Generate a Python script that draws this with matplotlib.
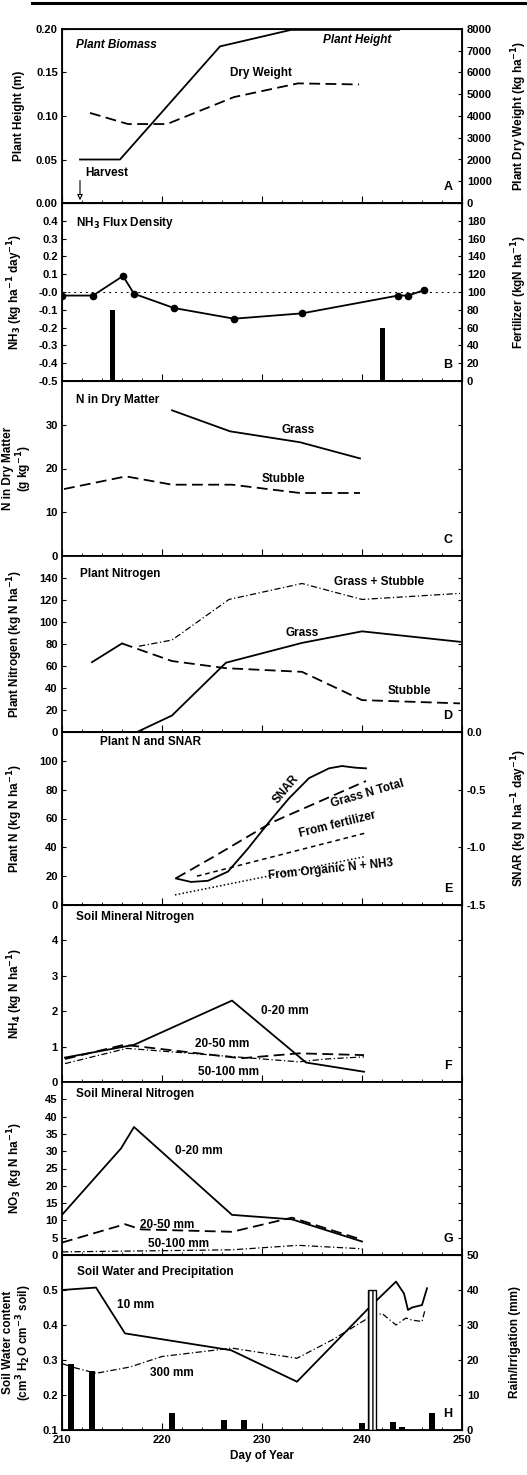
import numpy as np
import matplotlib
matplotlib.use("Agg")
import matplotlib.pyplot as plt
from matplotlib.lines import Line2D

plt.rcParams['font.family'] = ['Liberation Sans', 'DejaVu Sans']
plt.rcParams['font.weight'] = 'bold'
plt.rcParams['axes.labelweight'] = 'bold'
plt.rcParams['axes.unicode_minus'] = False
plt.rcParams['font.size'] = 8

# ---- data ----
# A: plant biomass
height_day = [211.8, 215.8, 225.8, 232.9, 243.7]
height_m = [0.05, 0.05, 0.18, 0.199, 0.199]
dry_day = [212.8, 216.6, 220.5, 227.2, 233.6, 239.7]
dry_wt = [4140, 3630, 3630, 4870, 5500, 5450]

# B: NH3 flux and fertilizer
nh3_day = [210, 213.1, 216.1, 217.2, 221.2, 227.2, 234.0, 243.6, 244.6, 246.2]
nh3_flux = [-0.02, -0.02, 0.09, -0.01, -0.09, -0.15, -0.12, -0.02, -0.02, 0.01]
fert_day = [215, 242]
fert_amt = [80, 60]

# C: N in dry matter
c_grass_day = [221.0, 226.8, 233.8, 239.8]
c_grass = [33.3, 28.5, 26.0, 22.3]
c_stub_day = [210.2, 216.4, 221.0, 227.0, 233.8, 239.8]
c_stub = [15.3, 18.2, 16.3, 16.3, 14.4, 14.4]

# D: plant nitrogen
d_pre_day = [213.0, 216.0]
d_pre = [63.5, 80.5]
d_grass_day = [217.5, 221.0, 226.4, 234.0, 240.0, 249.8]
d_grass = [0, 15, 63, 81, 91.5, 82]
d_stub_day = [216.0, 221.0, 226.4, 234.0, 240.0, 249.8]
d_stub = [80.5, 64.5, 58, 54.7, 29, 26]
d_total_day = [217.7, 221.0, 226.7, 234.0, 240.0, 249.8]
d_total = [78, 83.6, 120.5, 135, 120.5, 126]

# E: plant N and SNAR
e_total_day = [221.4, 225.3, 230.9, 240.4]
e_total = [18.6, 34, 57, 86]
e_fert_day = [223.5, 240.4]
e_fert = [20, 50]
e_org_day = [221.3, 240.4]
e_org = [7, 33.7]
snar_day = [221.4, 222.9, 224.6, 226.6, 228.6, 230.9, 232.7, 234.7, 236.7, 238.0, 239.4, 240.4]
snar = [-1.27, -1.30, -1.29, -1.21, -1.01, -0.76, -0.575, -0.40, -0.315, -0.295, -0.31, -0.315]

# F: soil NH4
f_day_a = [210.3, 217.2, 227.0, 234.4, 240.2]
f_0_20 = [0.69, 1.05, 2.3, 0.55, 0.29]
f_day_b = [210.3, 216.2, 217.8, 227.9, 233.7, 240.2]
f_20_50 = [0.65, 1.05, 1.0, 0.67, 0.81, 0.76]
f_day_c = [210.3, 216.5, 233.7, 236.4, 240.2]
f_50_100 = [0.52, 0.95, 0.57, 0.65, 0.71]

# G: soil NO3
g_day_a = [210, 215.9, 217.2, 227.0, 233.0, 240.0]
g_0_20 = [11.6, 30.8, 37, 11.6, 10.3, 3.9]
g_day_b = [210, 216.3, 217.9, 227.0, 233.0, 240.0]
g_20_50 = [3.6, 8.9, 7.4, 6.7, 10.8, 4.4]
g_day_c = [210, 227.0, 233.6, 240.0]
g_50_100 = [0.9, 1.5, 2.8, 1.8]

# H: soil water and precipitation
w10_day = [210, 213.4, 216.3, 226.9, 233.5, 240.8, 243.4, 244.2, 244.6, 245.0, 246.0, 246.5]
w10 = [0.50, 0.507, 0.376, 0.328, 0.238, 0.452, 0.524, 0.49, 0.443, 0.45, 0.457, 0.505]
w300_day = [210, 211, 213.4, 216.8, 220, 227, 233.5, 237, 240.8, 242, 243.4, 244.4, 245, 246, 246.3]
w300 = [0.29, 0.28, 0.262, 0.28, 0.31, 0.334, 0.305, 0.357, 0.423, 0.433, 0.40, 0.42, 0.414, 0.41, 0.443]
rain_day = [210.9, 213, 221, 226.2, 228.2, 240, 243.1, 244, 247]
rain_mm = [19, 17, 5, 3, 3, 2, 2.2, 1, 5]
irr_day = [241]
irr_mm = [40]

# ---- layout ----
W, H = 527, 1475
edges = [29, 203, 381, 556, 732, 905, 1082, 1255, 1430]
fig = plt.figure(figsize=(W / 100, H / 100), dpi=100)
axes = []
for i in range(8):
    ax = fig.add_axes([62 / W, 1 - edges[i + 1] / H, 400 / W, (edges[i + 1] - edges[i]) / H])
    axes.append(ax)

fig.add_artist(Line2D([0.06, 1.0], [0.9983, 0.9983], color='k', lw=2.2))

def style(ax, ylim, yticks, fmt, letter, right=True):
    ax.set_xlim(210, 250)
    ax.set_ylim(*ylim)
    ax.set_xticks(np.arange(210, 251, 10))
    ax.set_xticks(np.arange(210, 251, 2), minor=True)
    ax.set_yticks(yticks)
    ax.set_yticklabels([fmt % v for v in yticks])
    ax.tick_params(axis='both', which='both', direction='in', labelsize=8, right=right)
    ax.tick_params(axis='x', which='major', length=5)
    ax.tick_params(axis='x', which='minor', length=2.5)
    ax.tick_params(axis='y', length=3, pad=3)
    for s in ax.spines.values():
        s.set_linewidth(1.3)
    ax.text(0.965, 0.09, letter, transform=ax.transAxes, ha='center', va='center',
            fontsize=9, fontweight='bold')

def title(ax, s, x=0.035, y=0.91, **kw):
    ax.text(x, y, s, transform=ax.transAxes, ha='left', va='center', fontsize=8.5,
            fontweight='bold', **kw)

def right_axis(ax, ylim, yticks, labels, label):
    axr = ax.twinx()
    axr.set_ylim(*ylim)
    axr.set_yticks(yticks)
    axr.set_yticklabels(labels)
    axr.tick_params(direction='in', labelsize=8, length=3)
    axr.set_ylabel(label, fontsize=8.5)
    axr.yaxis.set_label_coords(1.118, 0.5)
    return axr

dash = (0, (6, 3))
sdash = (0, (3, 2.5))
dashdot = (0, (5, 2, 1, 2))

# A
ax = axes[0]
style(ax, (0, 0.2), np.arange(0, 0.201, 0.05), '%.2f', 'A', right=False)
ax.plot(height_day, height_m, color='k', lw=1.3)
axr = right_axis(ax, (0, 8000), np.arange(0, 8001, 1000),
                 ['%d' % v for v in np.arange(0, 8001, 1000)], 'Plant Dry Weight (kg ha$^{-1}$)')
axr.plot(dry_day, dry_wt, color='k', lw=1.3, ls=dash)
ax.set_ylabel('Plant Height (m)', fontsize=8.5)
title(ax, 'Plant Biomass', y=0.91, style='italic')
ax.text(236.1, 0.187, 'Plant Height', fontsize=8.5, style='italic', va='center')
ax.text(226.8, 0.149, 'Dry Weight', fontsize=8.5, va='center')
ax.text(212.3, 0.034, 'Harvest', fontsize=8.5, va='center')
ax.annotate('', xy=(211.8, 0), xytext=(211.8, 0.029),
            arrowprops=dict(arrowstyle='-|>', color='k', lw=0.8, fc='white'))

# B
ax = axes[1]
style(ax, (-0.5, 0.5), np.round(np.arange(-0.5, 0.41, 0.1), 1), '%.1f', 'B', right=False)
ax.axhline(0, color='k', lw=0.7, ls=(0, (2, 4)))
ax.plot(nh3_day, nh3_flux, color='k', lw=1.3, marker='o', ms=4.5)
axr = right_axis(ax, (0, 200), np.arange(0, 181, 20),
                 ['%d' % v for v in np.arange(0, 181, 20)], 'Fertilizer (kgN ha$^{-1}$)')
axr.bar(fert_day, fert_amt, width=0.5, color='k')
ax.set_ylabel('NH$_3$ (kg ha$^{-1}$ day$^{-1}$)', fontsize=8.5)
title(ax, 'NH$_3$ Flux Density', y=0.89)

# C
ax = axes[2]
style(ax, (0, 40), [0, 10, 20, 30], '%d', 'C')
ax.plot(c_grass_day, c_grass, color='k', lw=1.3)
ax.plot(c_stub_day, c_stub, color='k', lw=1.3, ls=dash)
ax.set_ylabel('N in Dry Matter\n(g kg$^{-1}$)', fontsize=8.5, linespacing=1.0)
title(ax, 'N in Dry Matter', y=0.89)
ax.text(232.0, 28.8, 'Grass', fontsize=8.5, va='center')
ax.text(230.0, 17.6, 'Stubble', fontsize=8.5, va='center')

# D
ax = axes[3]
style(ax, (0, 160), np.arange(0, 141, 20), '%d', 'D')
ax.plot(d_pre_day, d_pre, color='k', lw=1.3)
ax.plot(d_grass_day, d_grass, color='k', lw=1.3)
ax.plot(d_stub_day, d_stub, color='k', lw=1.3, ls=dash)
ax.plot(d_total_day, d_total, color='k', lw=0.9, ls=dashdot)
ax.set_ylabel('Plant Nitrogen (kg N ha$^{-1}$)', fontsize=8.5)
title(ax, 'Plant Nitrogen', x=0.045, y=0.9)
ax.text(237.2, 136, 'Grass + Stubble', fontsize=8.5, va='center')
ax.text(232.4, 90, 'Grass', fontsize=8.5, va='center')
ax.text(242.6, 37, 'Stubble', fontsize=8.5, va='center')

# E
ax = axes[4]
style(ax, (0, 120), np.arange(0, 101, 20), '%d', 'E', right=False)
ax.plot(e_total_day, e_total, color='k', lw=1.3, ls=dash)
ax.plot(e_fert_day, e_fert, color='k', lw=1.1, ls=sdash)
ax.plot(e_org_day, e_org, color='k', lw=1.1, ls=(0, (1, 1.5)))
axr = right_axis(ax, (-1.5, 0), [0.0, -0.5, -1.0, -1.5], ['0.0', '-0.5', '-1.0', '-1.5'],
                 'SNAR (kg N ha$^{-1}$ day$^{-1}$)')
axr.plot(snar_day, snar, color='k', lw=1.3)
ax.set_ylabel('Plant N (kg N ha$^{-1}$)', fontsize=8.5)
title(ax, 'Plant N and SNAR', x=0.095, y=0.94)
ax.text(232.4, 80, 'SNAR', fontsize=8.5, rotation=50, ha='center', va='center')
ax.text(240.5, 77, 'Grass N Total', fontsize=8.5, rotation=16, ha='center', va='center')
ax.text(237.5, 56, 'From fertilizer', fontsize=8.5, rotation=14, ha='center', va='center')
ax.text(236.9, 24.4, 'From Organic N + NH3', fontsize=8.5, rotation=6, ha='center', va='center')

# F
ax = axes[5]
style(ax, (0, 5), [0, 1, 2, 3, 4], '%d', 'F')
ax.plot(f_day_a, f_0_20, color='k', lw=1.3)
ax.plot(f_day_b, f_20_50, color='k', lw=1.3, ls=dash)
ax.plot(f_day_c, f_50_100, color='k', lw=0.9, ls=dashdot)
ax.set_ylabel('NH$_4$ (kg N ha$^{-1}$)', fontsize=8.5)
title(ax, 'Soil Mineral Nitrogen', y=0.93)
ax.text(229.9, 2.0, '0-20 mm', fontsize=8.5, va='center')
ax.text(223.3, 1.06, '20-50 mm', fontsize=8.5, va='center')
ax.text(223.6, 0.29, '50-100 mm', fontsize=8.5, va='center')

# G
ax = axes[6]
style(ax, (0, 50), np.arange(0, 46, 5), '%d', 'G')
ax.plot(g_day_a, g_0_20, color='k', lw=1.3)
ax.plot(g_day_b, g_20_50, color='k', lw=1.3, ls=dash)
ax.plot(g_day_c, g_50_100, color='k', lw=0.9, ls=dashdot)
ax.set_ylabel('NO$_3$ (kg N ha$^{-1}$)', fontsize=8.5)
title(ax, 'Soil Mineral Nitrogen', y=0.93)
ax.text(221.3, 30, '0-20 mm', fontsize=8.5, va='center')
ax.text(217.8, 8.7, '20-50 mm', fontsize=8.5, va='center')
ax.text(218.6, 3.2, '50-100 mm', fontsize=8.5, va='center')

# H
ax = axes[7]
style(ax, (0.1, 0.6), [0.1, 0.2, 0.3, 0.4, 0.5], '%.1f', 'H', right=False)
ax.plot(w10_day, w10, color='k', lw=1.3)
ax.plot(w300_day, w300, color='k', lw=0.9, ls=dashdot)
axr = right_axis(ax, (0, 50), np.arange(0, 51, 10),
                 ['%d' % v for v in np.arange(0, 51, 10)], 'Rain/Irrigation (mm)')
axr.bar(rain_day, rain_mm, width=0.6, color='k')
axr.bar(irr_day, irr_mm, width=0.8, color='white', edgecolor='k', lw=1.0, hatch='||||')
ax.set_ylabel('Soil Water content\n(cm$^3$ H$_2$O cm$^{-3}$ soil)', fontsize=8.5, linespacing=1.0)
title(ax, 'Soil Water and Precipitation', x=0.0375, y=0.9)
ax.text(215.5, 0.457, '10 mm', fontsize=8.5, va='center')
ax.text(218.8, 0.263, '300 mm', fontsize=8.5, va='center')
ax.set_xlabel('Day of Year', fontsize=8.5)

for a in axes[:-1]:
    a.tick_params(axis='x', labelbottom=False)
for a, n in zip(axes, [1, 1, 2, 1, 1, 1, 1, 2]):
    a.yaxis.set_label_coords(-0.092 if n == 1 else -0.07, 0.5)

fig.savefig('out.png', dpi=100)
